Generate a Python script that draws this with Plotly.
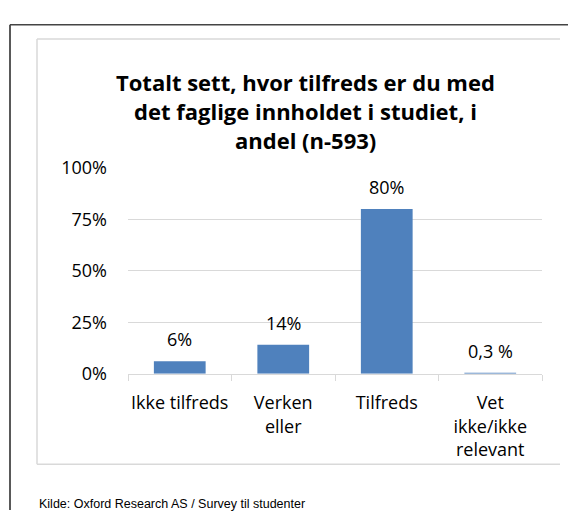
import plotly.graph_objects as go

categories = ["Ikke tilfreds", "Verken<br>eller", "Tilfreds", "Vet<br>ikke/ikke<br>relevant"]
values = [0.06, 0.14, 0.80, 0.003]
value_labels = ["6%", "14%", "80%", "0,3 %"]
y_ticks = [0, 0.25, 0.5, 0.75, 1.0]
y_tick_labels = ["0%", "25%", "50%", "75%", "100%"]
title_lines = ["Totalt sett, hvor tilfreds er du med",
               "det faglige innholdet i studiet, i",
               "andel (n-593)"]
source_text = "Kilde: Oxford Research AS / Survey til studenter"

# page has an 8px body margin; figure sized so page == window
M = 8
W, H = 576 - 2 * M, 529 - 2 * M
def px(x):
    return (x - M) / W
def py(y):
    return 1 - (y - M) / H

FONT = "Open Sans, Calibri, Carlito, sans-serif"

fig = go.Figure()
fig.add_trace(go.Bar(
    x=categories, y=values, marker_color="#4F81BD", width=0.5,
    marker_line_width=0, hoverinfo="skip",
))

for c, v, t in zip(categories, values, value_labels):
    fig.add_annotation(x=c, y=v, text=t, showarrow=False, xref="x", yref="y",
                       yshift=22, font=dict(family=FONT, size=18, color="#000"))

fig.update_layout(
    width=W, height=H,
    margin=dict(l=0, r=0, t=0, b=0),
    paper_bgcolor="white", plot_bgcolor="white",
    showlegend=False,
    xaxis=dict(
        domain=[px(128), px(542)],
        showgrid=False, showline=True, linecolor="#D9D9D9", linewidth=1,
        ticks="outside", tickson="boundaries", ticklen=6, tickcolor="#D9D9D9",
        tickangle=0, ticklabelstandoff=13,
        tickfont=dict(family=FONT, size=18, color="#000"),
        fixedrange=True,
    ),
    yaxis=dict(
        domain=[py(378), py(162)],
        range=[0, 1], tickvals=y_ticks, ticktext=y_tick_labels,
        showgrid=True, gridcolor="#D9D9D9", gridwidth=1,
        zeroline=False, showline=False, ticks="",
        ticklabelstandoff=20,
        tickfont=dict(family=FONT, size=18, color="#000"),
        fixedrange=True,
    ),
)

for i, line in enumerate(title_lines):
    fig.add_annotation(x=px(305), y=py(72 + 30.5 * i), xref="paper", yref="paper",
                       text="<b>" + line + "</b>", showarrow=False,
                       xanchor="center", yanchor="middle",
                       font=dict(family=FONT, size=22, color="#000"))
fig.add_annotation(x=px(37), y=py(515), xref="paper", yref="paper",
                   text=source_text, showarrow=False, xanchor="left", yanchor="middle",
                   font=dict(family="Liberation Sans, Arial", size=12.5, color="#000"))

# inner chart border (top, left, bottom; right edge is cut off in the original)
BOX = dict(color="#D9D9D9", width=1.5)
fig.add_shape(type="line", xref="paper", yref="paper",
              x0=px(37), x1=px(560), y0=py(27), y1=py(27), line=BOX)
fig.add_shape(type="line", xref="paper", yref="paper",
              x0=px(37), x1=px(37), y0=py(27), y1=py(473), line=BOX)
fig.add_shape(type="line", xref="paper", yref="paper",
              x0=px(37), x1=px(560), y0=py(473), y1=py(473), line=BOX)
# outer frame lines
fig.add_shape(type="line", xref="paper", yref="paper",
              x0=px(10), x1=px(10), y0=0, y1=py(12),
              line=dict(color="#222", width=1.5))
fig.add_shape(type="line", xref="paper", yref="paper",
              x0=px(10), x1=1, y0=py(12), y1=py(12),
              line=dict(color="#444", width=1.5))

fig.write_html("out.html")
